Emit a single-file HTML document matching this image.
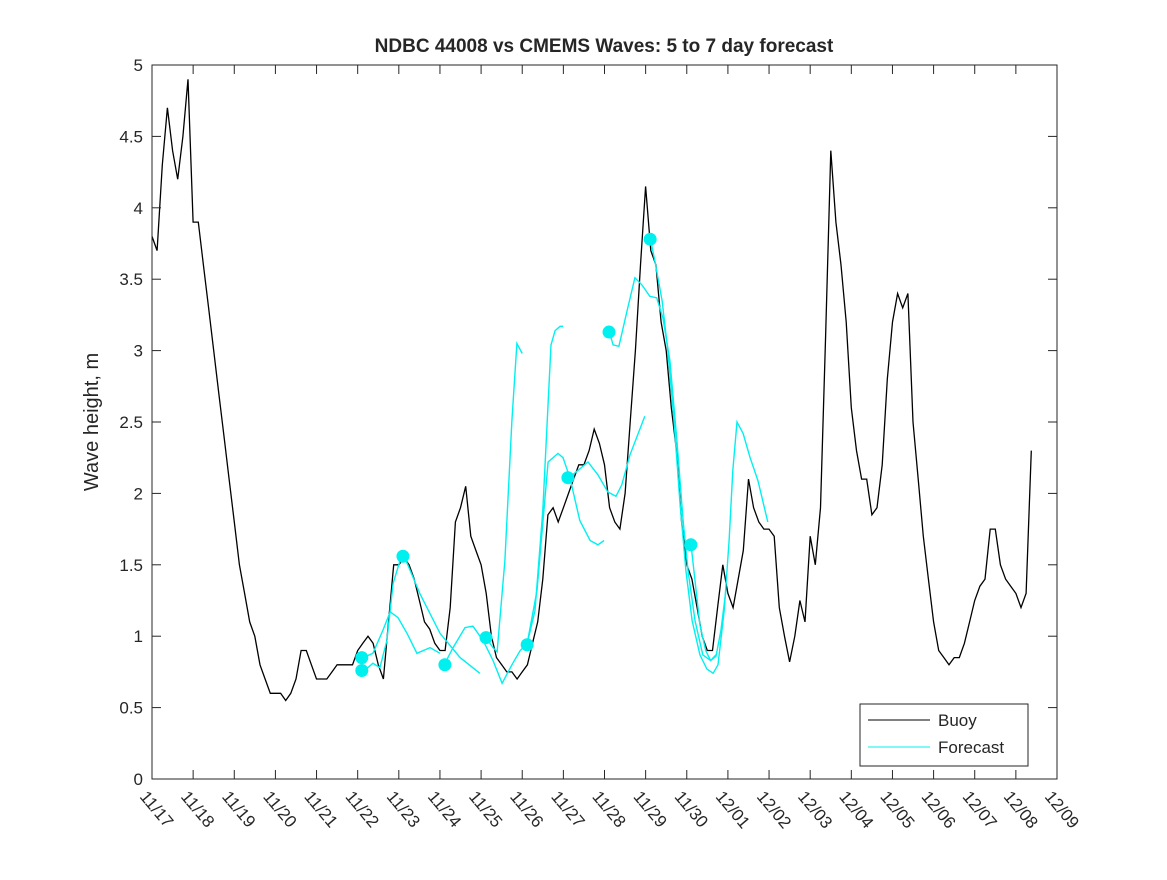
<!DOCTYPE html>
<html><head><meta charset="utf-8"><style>
body{margin:0;background:#fff;}
svg text{font-family:"Liberation Sans",sans-serif;fill:#262626;}
</style></head><body>
<svg id="chart" width="1167" height="875" xmlns="http://www.w3.org/2000/svg">
<rect width="1167" height="875" fill="#fff"/>
<g id="plot"></g>
</svg>
<script>
const xTickLabels=["11/17","11/18","11/19","11/20","11/21","11/22","11/23","11/24","11/25","11/26","11/27","11/28","11/29","11/30","12/01","12/02","12/03","12/04","12/05","12/06","12/07","12/08","12/09"];
const yTickValues=[0,0.5,1,1.5,2,2.5,3,3.5,4,4.5,5];
const yTickLabels=["0","0.5","1","1.5","2","2.5","3","3.5","4","4.5","5"];
const buoyStep=0.125;
const buoyValues=[3.8,3.7,4.3,4.7,4.4,4.2,4.5,4.9,3.9,3.9,3.6,3.3,3.0,2.7,2.4,2.1,1.8,1.5,1.3,1.1,1.0,0.8,0.7,0.6,0.6,0.6,0.55,0.6,0.7,0.9,0.9,0.8,0.7,0.7,0.7,0.75,0.8,0.8,0.8,0.8,0.9,0.95,1.0,0.95,0.8,0.7,1.1,1.5,1.5,1.55,1.5,1.4,1.25,1.1,1.05,0.95,0.9,0.9,1.2,1.8,1.9,2.05,1.7,1.6,1.5,1.3,1.0,0.85,0.8,0.75,0.75,0.7,0.75,0.8,0.95,1.1,1.4,1.85,1.9,1.8,1.9,2.0,2.1,2.2,2.2,2.3,2.45,2.35,2.2,1.9,1.8,1.75,2.0,2.5,3.0,3.6,4.15,3.7,3.6,3.2,3.0,2.6,2.3,1.8,1.5,1.4,1.2,1.0,0.9,0.9,1.2,1.5,1.3,1.2,1.4,1.6,2.1,1.9,1.8,1.75,1.75,1.7,1.2,1.0,0.82,1.0,1.25,1.1,1.7,1.5,1.9,3.1,4.4,3.9,3.6,3.2,2.6,2.3,2.1,2.1,1.85,1.9,2.2,2.8,3.2,3.4,3.3,3.4,2.5,2.1,1.7,1.4,1.1,0.9,0.85,0.8,0.85,0.85,0.95,1.1,1.25,1.35,1.4,1.75,1.75,1.5,1.4,1.35,1.3,1.2,1.3,2.3];
const fcDays=[
[5.13,5.37,5.61,5.79,5.98,6.20,6.44,6.76,7.00],
[5.13,5.37,5.54,5.71,5.86,6.03,6.22],
[6.13,6.51,7.00,7.49,7.97],
[7.12,7.32,7.61,7.80,8.05,8.29,8.51,8.75,8.95,9.12],
[8.12,8.29,8.39,8.58,8.75,8.87,9.0],
[9.12,9.31,9.50,9.70,9.80,9.92,9.99],
[9.12,9.36,9.63,9.87,9.99,10.16,10.40,10.65,10.84,10.99],
[10.14,10.35,10.60,10.84,11.08,11.28,11.42,11.62,11.98],
[11.11,11.21,11.35,11.55,11.74,11.91,12.10,12.27,12.42,12.59,12.76,12.91,13.03,13.20,13.39,13.58,13.71],
[12.11,12.23,12.40,12.54,12.69,12.83,12.98,13.13,13.32,13.49,13.64,13.76,13.91,14.03,14.12,14.22,14.37,14.54,14.73,14.97],
[13.10,13.20,13.32,13.46,13.58,13.71,13.83,13.95]];
const fcValues=[
[0.85,0.88,1.04,1.17,1.13,1.02,0.88,0.92,0.88],
[0.75,0.81,0.78,0.97,1.37,1.53,1.56],
[1.56,1.30,1.02,0.85,0.74],
[0.81,0.92,1.06,1.07,0.97,0.83,0.67,0.80,0.90,0.95],
[0.99,0.92,0.89,1.53,2.51,3.05,2.98],
[0.95,1.18,1.88,3.04,3.14,3.17,3.17],
[0.95,1.32,2.22,2.28,2.25,2.11,1.81,1.67,1.64,1.67],
[2.11,2.16,2.22,2.13,2.01,1.98,2.06,2.27,2.54],
[3.14,3.04,3.03,3.28,3.51,3.46,3.38,3.37,3.23,2.93,2.37,1.81,1.46,1.11,0.87,0.83,0.87],
[3.79,3.62,3.35,3.00,2.51,1.95,1.46,1.11,0.87,0.77,0.74,0.80,1.18,1.67,2.16,2.50,2.42,2.25,2.09,1.80],
[1.65,1.39,1.08,0.90,0.83,0.86,1.04,1.32]];
const markerDays=[5.10,5.10,6.10,7.12,8.12,9.12,10.11,11.11,12.11,13.10];
const markerValues=[0.76,0.85,1.56,0.80,0.99,0.94,2.11,3.13,3.78,1.64];

const L=152,R=1057,T=65,B=779;
const xS=d=>L+d*(R-L)/22;
const yS=v=>B-v*(B-T)/5;
const NS="http://www.w3.org/2000/svg";
const g=document.getElementById('plot');
function mk(tag,attrs,parent){const e=document.createElementNS(NS,tag);for(const k in attrs)e.setAttribute(k,attrs[k]);(parent||g).appendChild(e);return e;}

const title=mk('text',{x:604,y:52,'text-anchor':'middle','font-size':'19','font-weight':'bold'});
title.textContent="NDBC 44008 vs CMEMS Waves: 5 to 7 day forecast";


const yl=mk('text',{x:0,y:0,'text-anchor':'middle','font-size':'20',transform:'translate(98,422) rotate(-90)'});
yl.textContent="Wave height, m";



let pts=buoyValues.map((v,i)=>xS(i*buoyStep).toFixed(1)+','+yS(v).toFixed(1)).join(' ');
const bl=mk('polyline',{points:pts,fill:'none',stroke:'#000','stroke-width':1.3});



fcDays.forEach((ds,k)=>{
  const p=ds.map((d,i)=>xS(d).toFixed(1)+','+yS(fcValues[k][i]).toFixed(1)).join(' ');
  const fl=mk('polyline',{points:p,fill:'none',stroke:'#00f0f0','stroke-width':1.4});
  
  
});
markerDays.forEach((d,i)=>{
  const c=mk('circle',{cx:xS(d),cy:yS(markerValues[i]),r:6.5,fill:'#00f0f0'});
  
  
});

const ax=mk('rect',{x:L,y:T,width:R-L,height:B-T,fill:'none',stroke:'#262626','stroke-width':1});


xTickLabels.forEach((lab,i)=>{
  const x=xS(i);
  mk('line',{x1:x,y1:B,x2:x,y2:B-9,stroke:'#262626'});
  mk('line',{x1:x,y1:T,x2:x,y2:T+9,stroke:'#262626'});
  const t=mk('text',{x:0,y:0,'font-size':'17',transform:`translate(${x-13},${B+18}) rotate(50)`});
  t.textContent=lab;
  
  
});
yTickValues.forEach((v,i)=>{
  const y=yS(v);
  mk('line',{x1:L,y1:y,x2:L+9,y2:y,stroke:'#262626'});
  mk('line',{x1:R,y1:y,x2:R-9,y2:y,stroke:'#262626'});
  const t=mk('text',{x:L-9,y:y+6,'text-anchor':'end','font-size':'17'});
  t.textContent=yTickLabels[i];
  
  
});

const lg=mk('g',{});


mk('rect',{x:860,y:704,width:168,height:62,fill:'#fff',stroke:'#262626'},lg);
mk('line',{x1:868,y1:720,x2:930,y2:720,stroke:'#000','stroke-width':1},lg);
mk('line',{x1:868,y1:747,x2:930,y2:747,stroke:'#00f0f0','stroke-width':1},lg);
const t1=mk('text',{x:938,y:726,'font-size':'17'},lg);t1.textContent="Buoy";


const t2=mk('text',{x:938,y:753,'font-size':'17'},lg);t2.textContent="Forecast";


</script>
</body></html>
